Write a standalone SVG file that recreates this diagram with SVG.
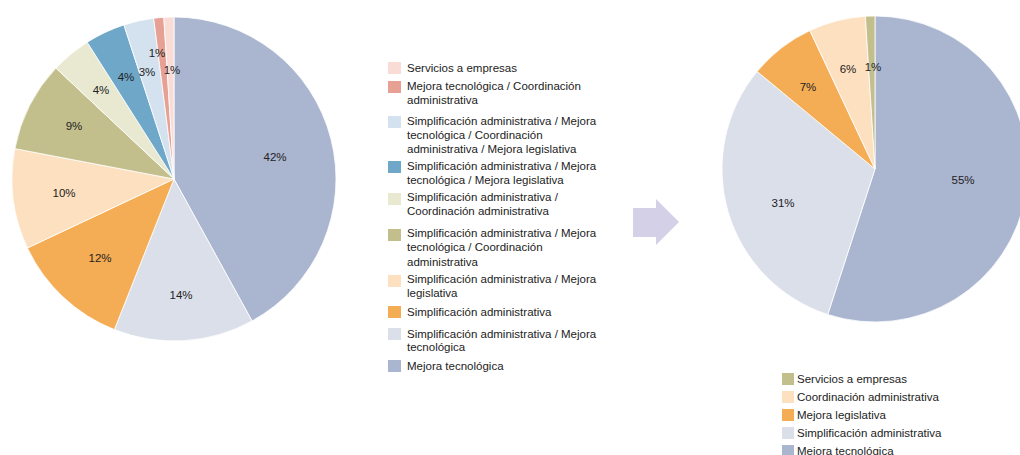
<svg xmlns="http://www.w3.org/2000/svg" width="1020" height="455" viewBox="0 0 1020 455">
<style>
text{font-family:"Liberation Sans",Arial,sans-serif;font-size:11.5px;fill:#222}
.lbl{text-anchor:middle}
.s{stroke:#fff;stroke-width:0.8;stroke-linejoin:round}
.c1{fill:#aab5d0}.c2{fill:#dadfea}.c3{fill:#f5ad55}.c4{fill:#fde0bf}.c5{fill:#c3bf8c}
.c6{fill:#e9e9d2}.c7{fill:#6ea7c8}.c8{fill:#d3e2ee}.c9{fill:#e6a194}.c10{fill:#f9dcd6}
</style>
<rect width="1020" height="455" fill="#fff"/>
<g id="pie-left">
<path class="s c1" d="M174,179 L174,17 A162,162 0 0 1 252.04,320.96 Z"/>
<path class="s c2" d="M174,179 L252.04,320.96 A162,162 0 0 1 114.36,329.62 Z"/>
<path class="s c3" d="M174,179 L114.36,329.62 A162,162 0 0 1 27.42,247.98 Z"/>
<path class="s c4" d="M174,179 L27.42,247.98 A162,162 0 0 1 14.87,148.64 Z"/>
<path class="s c5" d="M174,179 L14.87,148.64 A162,162 0 0 1 55.91,68.10 Z"/>
<path class="s c6" d="M174,179 L55.91,68.10 A162,162 0 0 1 87.20,42.22 Z"/>
<path class="s c7" d="M174,179 L87.20,42.22 A162,162 0 0 1 123.94,24.93 Z"/>
<path class="s c8" d="M174,179 L123.94,24.93 A162,162 0 0 1 153.70,18.28 Z"/>
<path class="s c9" d="M174,179 L153.70,18.28 A162,162 0 0 1 163.83,17.32 Z"/>
<path class="s c10" d="M174,179 L163.83,17.32 A162,162 0 0 1 174,17 Z"/>
<text class="lbl" x="275" y="161">42%</text>
<text class="lbl" x="181" y="299">14%</text>
<text class="lbl" x="100" y="262">12%</text>
<text class="lbl" x="64" y="197">10%</text>
<text class="lbl" x="74" y="130">9%</text>
<text class="lbl" x="101" y="94">4%</text>
<text class="lbl" x="126" y="81">4%</text>
<text class="lbl" x="147" y="76">3%</text>
<text class="lbl" x="157" y="57">1%</text>
<text class="lbl" x="172" y="74">1%</text>
</g>
<g id="legend-left">
<rect class="c10" x="388" y="62" width="13" height="12"/>
<text x="407" y="72">Servicios a empresas</text>
<rect class="c9" x="388" y="81" width="13" height="12"/>
<text x="407" y="90"><tspan x="407">Mejora tecnológica / Coordinación</tspan><tspan x="407" dy="14">administrativa</tspan></text>
<rect class="c8" x="388" y="116" width="13" height="12"/>
<text x="407" y="125"><tspan x="407">Simplificación administrativa / Mejora</tspan><tspan x="407" dy="13.5">tecnológica / Coordinación</tspan><tspan x="407" dy="14">administrativa / Mejora legislativa</tspan></text>
<rect class="c7" x="388" y="161" width="13" height="12"/>
<text x="407" y="170"><tspan x="407">Simplificación administrativa / Mejora</tspan><tspan x="407" dy="13.5">tecnológica / Mejora legislativa</tspan></text>
<rect class="c6" x="388" y="193" width="13" height="12"/>
<text x="407" y="201"><tspan x="407">Simplificación administrativa /</tspan><tspan x="407" dy="14">Coordinación administrativa</tspan></text>
<rect class="c5" x="388" y="229" width="13" height="12"/>
<text x="407" y="237"><tspan x="407">Simplificación administrativa / Mejora</tspan><tspan x="407" dy="14">tecnológica / Coordinación</tspan><tspan x="407" dy="14.5">administrativa</tspan></text>
<rect class="c4" x="388" y="275" width="13" height="12"/>
<text x="407" y="283"><tspan x="407">Simplificación administrativa / Mejora</tspan><tspan x="407" dy="14">legislativa</tspan></text>
<rect class="c3" x="388" y="306" width="13" height="12"/>
<text x="407" y="316">Simplificación administrativa</text>
<rect class="c2" x="388" y="328" width="13" height="12"/>
<text x="407" y="338"><tspan x="407">Simplificación administrativa / Mejora</tspan><tspan x="407" dy="13">tecnológica</tspan></text>
<rect class="c1" x="388" y="360" width="13" height="12"/>
<text x="407" y="370">Mejora tecnológica</text>
</g>
<g id="arrow">
<path d="M633,208 H656 V199 L679,222 L656,245 V237 H633 Z" fill="#d3d0e8"/>
</g>
<g id="pie-right">
<path class="s c1" d="M875,169 L875,16 A153,153 0 1 1 827.72,314.51 Z"/>
<path class="s c2" d="M875,169 L827.72,314.51 A153,153 0 0 1 757.11,71.47 Z"/>
<path class="s c3" d="M875,169 L757.11,71.47 A153,153 0 0 1 809.86,30.56 Z"/>
<path class="s c4" d="M875,169 L809.86,30.56 A153,153 0 0 1 865.39,16.30 Z"/>
<path class="s c5" d="M875,169 L865.39,16.30 A153,153 0 0 1 875,16 Z"/>
<text class="lbl" x="963" y="184">55%</text>
<text class="lbl" x="783" y="207">31%</text>
<text class="lbl" x="808" y="91">7%</text>
<text class="lbl" x="848" y="73">6%</text>
<text class="lbl" x="873" y="71">1%</text>
</g>
<g id="legend-right">
<rect class="c5" x="782" y="373" width="12" height="12"/>
<text x="797" y="383">Servicios a empresas</text>
<rect class="c4" x="782" y="391" width="12" height="12"/>
<text x="797" y="401">Coordinación administrativa</text>
<rect class="c3" x="782" y="409" width="12" height="12"/>
<text x="797" y="419">Mejora legislativa</text>
<rect class="c2" x="782" y="427" width="12" height="12"/>
<text x="797" y="437">Simplificación administrativa</text>
<rect class="c1" x="782" y="445" width="12" height="12"/>
<text x="797" y="455">Mejora tecnológica</text>
</g>
</svg>
